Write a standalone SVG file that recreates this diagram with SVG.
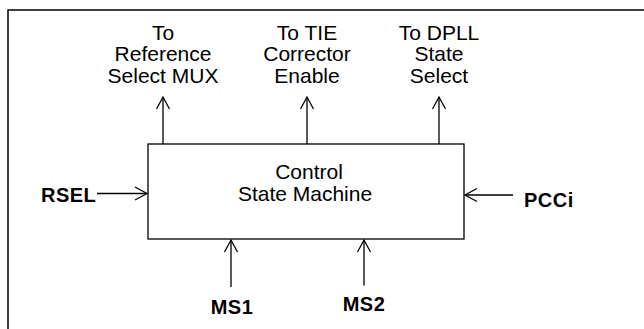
<svg xmlns="http://www.w3.org/2000/svg" width="644" height="329" viewBox="0 0 644 329">
  <style>
    .ln { fill: none; stroke: #000; stroke-width: 1.3; }
    .lbl { font-family: "Liberation Sans", Arial, sans-serif; font-size: 21px; fill: #000; text-anchor: middle; }
    .sig { font-family: "Liberation Sans", Arial, sans-serif; font-size: 20px; font-weight: bold; fill: #000; letter-spacing: 0.5px; }
  </style>
  <defs>
    <marker id="arr" viewBox="-14 -8 15 16" refX="0" refY="0" markerWidth="15" markerHeight="16" markerUnits="userSpaceOnUse" orient="auto" overflow="visible">
      <path d="M-12,-6.5 L0,0 L-12,6.5" fill="none" stroke="#000" stroke-width="1.3"/>
    </marker>
  </defs>
  <rect width="644" height="329" fill="#fff"/>
  <g id="frame">
    <rect x="8" y="10" width="700" height="400" fill="none" stroke="#000" stroke-width="1.5"/>
  </g>
  <g id="connectors">
    <path class="ln" d="M163,144 L163,97" marker-end="url(#arr)"/>
    <path class="ln" d="M307,144 L307,97" marker-end="url(#arr)"/>
    <path class="ln" d="M439,144 L439,97" marker-end="url(#arr)"/>
    <path class="ln" d="M97,193.5 L147,193.5" marker-end="url(#arr)"/>
    <path class="ln" d="M513,195 L465,195" marker-end="url(#arr)"/>
    <path class="ln" d="M231,287 L231,240" marker-end="url(#arr)"/>
    <path class="ln" d="M364,285.5 L364,240" marker-end="url(#arr)"/>
  </g>
  <g id="csm">
    <rect x="148" y="144" width="316" height="95" class="ln"/>
    <text class="lbl" x="309" y="179">Control</text>
    <text class="lbl" x="305" y="200.7">State Machine</text>
  </g>
  <g id="out-ref">
    <text class="lbl" x="163" y="39.5">To</text>
    <text class="lbl" x="163" y="61">Reference</text>
    <text class="lbl" x="163" y="82.5">Select MUX</text>
  </g>
  <g id="out-tie">
    <text class="lbl" x="307" y="39.5">To TIE</text>
    <text class="lbl" x="307" y="61">Corrector</text>
    <text class="lbl" x="307" y="82.5">Enable</text>
  </g>
  <g id="out-dpll">
    <text class="lbl" x="439" y="39.5">To DPLL</text>
    <text class="lbl" x="439" y="61">State</text>
    <text class="lbl" x="439" y="82.5">Select</text>
  </g>
  <g id="in-rsel">
    <text class="sig" x="41" y="201.5">RSEL</text>
  </g>
  <g id="in-pcci">
    <text class="sig" x="524" y="206.5">PCCi</text>
  </g>
  <g id="in-ms1">
    <text class="sig" x="232" y="314" text-anchor="middle">MS1</text>
  </g>
  <g id="in-ms2">
    <text class="sig" x="364" y="310.5" text-anchor="middle">MS2</text>
  </g>
</svg>
